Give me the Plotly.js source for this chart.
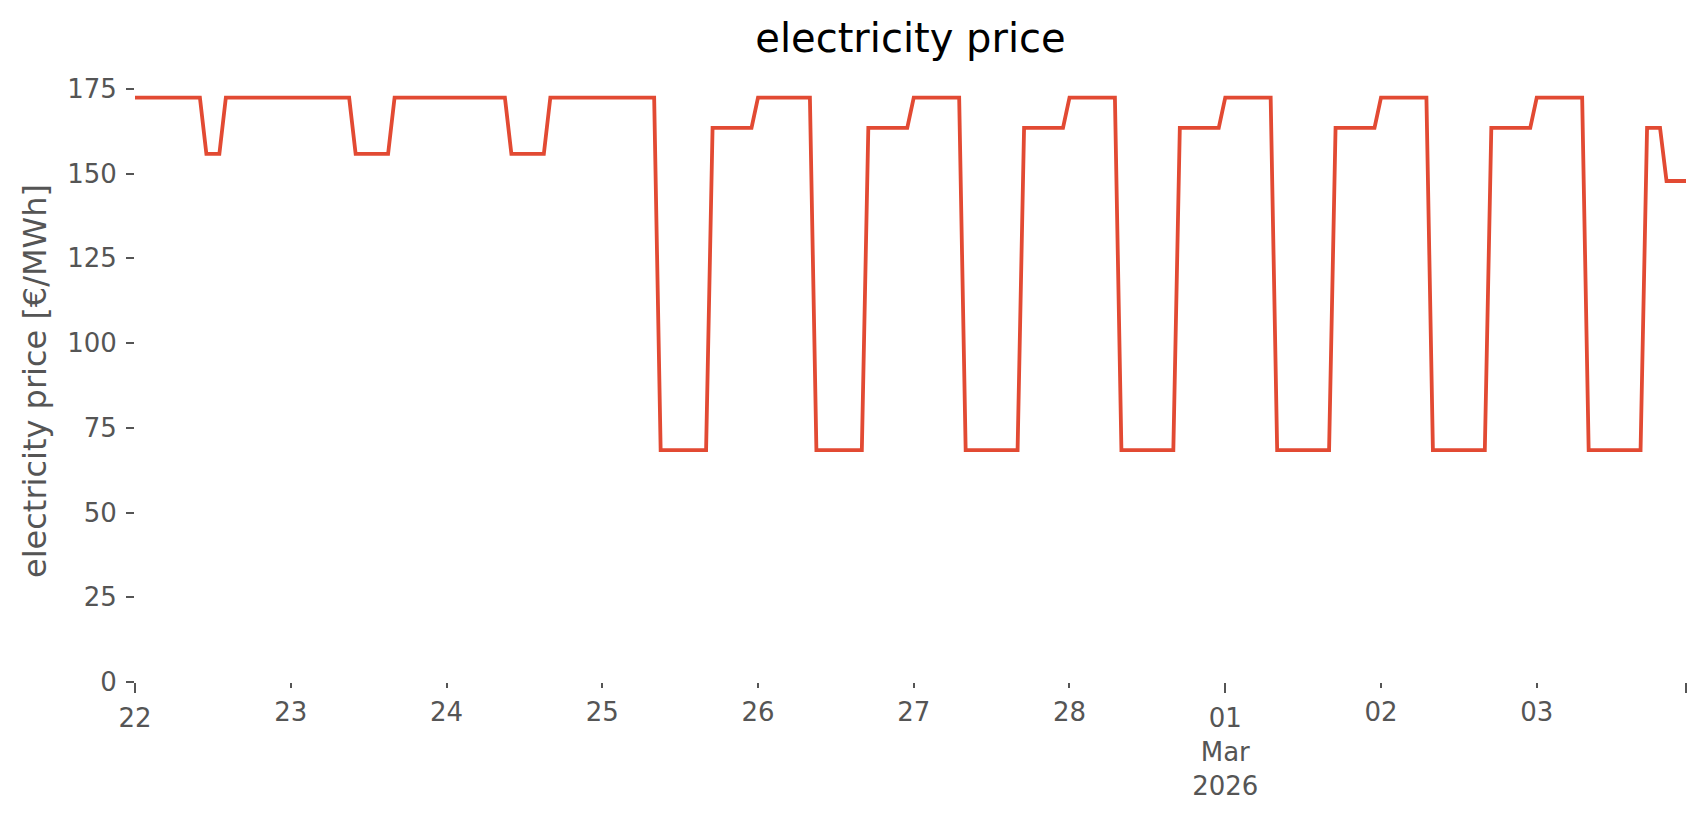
<!DOCTYPE html>
<html>
<head>
<meta charset="utf-8">
<script src="https://cdn.plot.ly/plotly-3.0.1.min.js"></script>
<style>html,body{margin:0;padding:0;background:#fff;}#chart{width:1706px;height:815px;}</style>
</head>
<body>
<div id="chart"></div>
<script>
// Dates (one array of 24 hourly prices per day)
const days = ["2026-02-22","2026-02-23","2026-02-24","2026-02-25","2026-02-26",
              "2026-02-27","2026-02-28","2026-03-01","2026-03-02","2026-03-03"];

// hourly electricity price [€/MWh], hours 0..23
const price_0222 = [172.4,172.4,172.4,172.4,172.4,172.4,172.4,172.4,172.4,172.4,172.4,155.8,155.8,155.8,172.4,172.4,172.4,172.4,172.4,172.4,172.4,172.4,172.4,172.4];
const price_0223 = [172.4,172.4,172.4,172.4,172.4,172.4,172.4,172.4,172.4,172.4,155.8,155.8,155.8,155.8,155.8,155.8,172.4,172.4,172.4,172.4,172.4,172.4,172.4,172.4];
const price_0224 = [172.4,172.4,172.4,172.4,172.4,172.4,172.4,172.4,172.4,172.4,155.8,155.8,155.8,155.8,155.8,155.8,172.4,172.4,172.4,172.4,172.4,172.4,172.4,172.4];
const price_0225 = [172.4,172.4,172.4,172.4,172.4,172.4,172.4,172.4,172.4,68.4,68.4,68.4,68.4,68.4,68.4,68.4,68.4,163.5,163.5,163.5,163.5,163.5,163.5,163.5];
const price_0226 = [172.4,172.4,172.4,172.4,172.4,172.4,172.4,172.4,172.4,68.4,68.4,68.4,68.4,68.4,68.4,68.4,68.4,163.5,163.5,163.5,163.5,163.5,163.5,163.5];
const price_0227 = [172.4,172.4,172.4,172.4,172.4,172.4,172.4,172.4,68.4,68.4,68.4,68.4,68.4,68.4,68.4,68.4,68.4,163.5,163.5,163.5,163.5,163.5,163.5,163.5];
const price_0228 = [172.4,172.4,172.4,172.4,172.4,172.4,172.4,172.4,68.4,68.4,68.4,68.4,68.4,68.4,68.4,68.4,68.4,163.5,163.5,163.5,163.5,163.5,163.5,163.5];
const price_0301 = [172.4,172.4,172.4,172.4,172.4,172.4,172.4,172.4,68.4,68.4,68.4,68.4,68.4,68.4,68.4,68.4,68.4,163.5,163.5,163.5,163.5,163.5,163.5,163.5];
const price_0302 = [172.4,172.4,172.4,172.4,172.4,172.4,172.4,172.4,68.4,68.4,68.4,68.4,68.4,68.4,68.4,68.4,68.4,163.5,163.5,163.5,163.5,163.5,163.5,163.5];
const price_0303 = [172.4,172.4,172.4,172.4,172.4,172.4,172.4,172.4,68.4,68.4,68.4,68.4,68.4,68.4,68.4,68.4,68.4,163.5,163.5,163.5,147.8,147.8,147.8,147.8];

const dailyPrices = [price_0222,price_0223,price_0224,price_0225,price_0226,
                     price_0227,price_0228,price_0301,price_0302,price_0303];

// x tick labels: minor (day) ticks and major ticks
const minorTickText = ["23","24","25","26","27","28","02","03"];
const minorTickDays = ["2026-02-23","2026-02-24","2026-02-25","2026-02-26","2026-02-27","2026-02-28","2026-03-02","2026-03-03"];
const majorTickText = ["22","01<br>Mar<br>2026",""];
const majorTickDays = ["2026-02-22","2026-03-01"];
const yTickVals = [0,25,50,75,100,125,150,175];

const x = [], y = [];
days.forEach((d, i) => {
  dailyPrices[i].forEach((v, h) => {
    x.push(d + " " + String(h).padStart(2, "0") + ":00:00");
    y.push(v);
  });
});
const xStart = x[0], xEnd = x[x.length - 1];
const minorTickVals = minorTickDays.map(d => d + " 00:00:00");
const majorTickVals = majorTickDays.map(d => d + " 00:00:00").concat([xEnd]);

const FAM = "DejaVu Sans, sans-serif";
const tickFont = {family: FAM, size: 26, color: "#555555"};

Plotly.newPlot("chart", [{
  type: "scatter", mode: "lines", x: x, y: y, xaxis: "x", yaxis: "y",
  line: {color: "#E24A33", width: 3.8, shape: "linear"},
  hoverinfo: "skip", showlegend: false
}, {
  // same series bound to the overlay axis that carries the major ticks (invisible)
  type: "scatter", mode: "lines", x: x, y: y, xaxis: "x2", yaxis: "y",
  line: {color: "rgba(0,0,0,0)", width: 0}, opacity: 0,
  hoverinfo: "skip", showlegend: false
}], {
  width: 1706, height: 815,
  paper_bgcolor: "#ffffff", plot_bgcolor: "#ffffff",
  margin: {l: 135, r: 20, t: 80, b: 133, pad: 0},
  font: {family: FAM, color: "#555555"},
  title: {text: "electricity price", font: {family: FAM, size: 40, color: "#000000"},
          x: 0.5, xref: "paper", xanchor: "center", y: 1 - 38/815, yref: "container", yanchor: "middle"},
  xaxis: {
    type: "date", range: [xStart, xEnd], tickmode: "array", tickvals: minorTickVals, ticktext: minorTickText,
    showgrid: false, zeroline: false, showline: false,
    ticks: "outside", ticklen: 5, tickwidth: 2, tickcolor: "#555555", ticklabelstandoff: 2,
    tickfont: tickFont
  },
  xaxis2: {
    type: "date", range: [xStart, xEnd], overlaying: "x", anchor: "y", side: "bottom",
    tickmode: "array", tickvals: majorTickVals, ticktext: majorTickText,
    showgrid: false, zeroline: false, showline: false,
    ticks: "outside", ticklen: 10, tickwidth: 2, tickcolor: "#555555", ticklabelstandoff: 3,
    tickfont: tickFont
  },
  yaxis: {
    range: [0, 177.6], tickmode: "array", tickvals: yTickVals,
    showgrid: false, zeroline: false, showline: false,
    ticks: "outside", ticklen: 8, tickwidth: 2, tickcolor: "#555555", ticklabelstandoff: 4,
    tickfont: tickFont,
    title: {text: "electricity price [€/MWh]", font: {family: FAM, size: 32, color: "#555555"}, standoff: 10}
  }
}, {staticPlot: true, displayModeBar: false});
</script>
</body>
</html>
